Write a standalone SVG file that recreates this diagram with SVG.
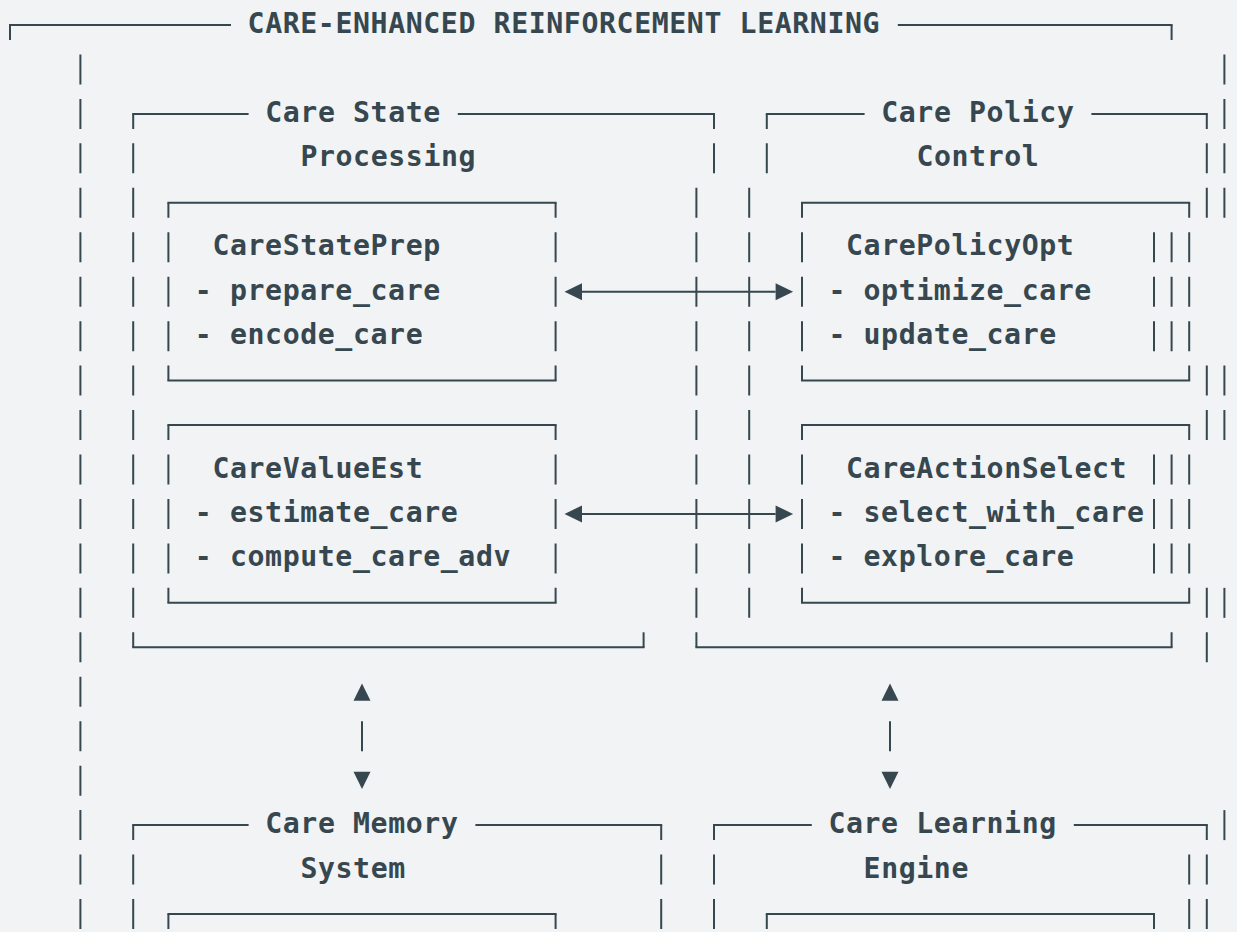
<svg xmlns="http://www.w3.org/2000/svg" width="1237" height="932" viewBox="0 0 1237 932">
<style>
.ln{fill:none;stroke:#37474f;stroke-width:2;stroke-linecap:square}
.vs{fill:none;stroke:#37474f;stroke-width:2;stroke-dasharray:30 14.45;stroke-dashoffset:15}
.vb{fill:none;stroke:#37474f;stroke-width:2;stroke-dasharray:30 14.45}
.tk{fill:none;stroke:#37474f;stroke-width:2}
.cn{fill:none;stroke:#37474f;stroke-width:2}
text{font-family:"DejaVu Sans Mono","Liberation Mono",monospace;font-weight:700;font-size:28.2px;letter-spacing:0.6px;fill:#37474f}
</style>
<defs>
<marker id="tri" markerUnits="userSpaceOnUse" markerWidth="18" markerHeight="18" refX="0" refY="8.5" orient="auto-start-reverse" overflow="visible"><path d="M0,0 L17.5,8.5 L0,17 z" fill="#37474f"/></marker>
<marker id="triGap" markerUnits="userSpaceOnUse" markerWidth="40" markerHeight="18" refX="0" refY="8.5" orient="auto-start-reverse" overflow="visible"><path d="M20.5,0 L37.8,8.5 L20.5,17 z" fill="#37474f"/></marker>
</defs>
<rect x="0" y="0" width="1237" height="932" fill="#f1f3f5"/>

<g id="frame-outer">
<path class="ln" d="M10,25 H230 M898.8,25 H1171.6"/>
<path class="tk" d="M10,25 V40 M1171.6,25 V40"/>
<path class="vb" d="M80.4,54.45 V929"/>
<path class="vb" d="M1224.4,54.45 V217.8"/>
<path class="vb" d="M1224.4,365.6 V440.05"/>
<path class="vb" d="M1224.4,587.85 V617.85"/>
<path class="vb" d="M1224.4,810.1 V840.1"/>
<path class="vb" d="M1189.2,854.55 V929"/>
<text x="247.6" y="33">CARE-ENHANCED REINFORCEMENT LEARNING</text>
</g>

<g id="group-care-state">
<path class="ln" d="M133.2,113.9 H247.6 M458.8,113.9 H714 M133.2,647.3 H643.6"/>
<path class="vs" d="M133.2,113.9 V647.3"/>
<path class="vs" d="M714,113.9 V173.35"/>
<path class="vb" d="M696.4,187.8 V617.85"/>
<path class="tk" d="M643.6,632.3 V647.3"/>
<text x="265.2" y="121.9">Care State</text>
<text x="300.4" y="166.35">Processing</text>
</g>

<g id="group-care-policy">
<path class="ln" d="M766.8,113.9 H863.6 M1092.4,113.9 H1206.8 M696.4,647.3 H1171.6"/>
<path class="vs" d="M766.8,113.9 V173.35"/>
<path class="vs" d="M1206.8,113.9 V217.8"/>
<path class="vb" d="M749.2,187.8 V617.85"/>
<path class="vb" d="M1206.8,365.6 V440.05"/>
<path class="vb" d="M1206.8,587.85 V662.3"/>
<path class="vb" d="M1171.6,232.25 V351.15"/>
<path class="vb" d="M1171.6,454.5 V573.4"/>
<path class="vb" d="M1154,232.25 V351.15"/>
<path class="vb" d="M1154,454.5 V573.4"/>
<path class="tk" d="M696.4,632.3 V647.3 M1171.6,632.3 V647.3"/>
<text x="881.2" y="121.9">Care Policy</text>
<text x="916.4" y="166.35">Control</text>
</g>

<g id="node-care-state-prep">
<path class="ln" d="M168.4,202.8 H555.6 M168.4,380.6 H555.6"/>
<path class="vs" d="M168.4,202.8 V380.6"/>
<path class="vs" d="M555.6,202.8 V380.6"/>
<text x="212.4" y="255.25">CareStatePrep</text>
<text x="194.8" y="299.7">- prepare_care</text>
<text x="194.8" y="344.15">- encode_care</text>
</g>

<g id="node-care-value-est">
<path class="ln" d="M168.4,425.05 H555.6 M168.4,602.85 H555.6"/>
<path class="vs" d="M168.4,425.05 V602.85"/>
<path class="vs" d="M555.6,425.05 V602.85"/>
<text x="212.4" y="477.5">CareValueEst</text>
<text x="194.8" y="521.95">- estimate_care</text>
<text x="194.8" y="566.4">- compute_care_adv</text>
</g>

<g id="node-care-policy-opt">
<path class="ln" d="M802,202.8 H1189.2 M802,380.6 H1189.2"/>
<path class="vs" d="M802,202.8 V380.6"/>
<path class="vs" d="M1189.2,202.8 V380.6"/>
<text x="846" y="255.25">CarePolicyOpt</text>
<text x="828.4" y="299.7">- optimize_care</text>
<text x="828.4" y="344.15">- update_care</text>
</g>

<g id="node-care-action-select">
<path class="ln" d="M802,425.05 H1189.2 M802,602.85 H1189.2"/>
<path class="vs" d="M802,425.05 V602.85"/>
<path class="vs" d="M1189.2,425.05 V602.85"/>
<text x="846" y="477.5">CareActionSelect</text>
<text x="828.4" y="521.95">- select_with_care</text>
<text x="828.4" y="566.4">- explore_care</text>
</g>

<g id="group-care-memory">
<path class="ln" d="M133.2,825.1 H247.6 M476.4,825.1 H661.2"/>
<path class="vs" d="M133.2,825.1 V929"/>
<path class="vs" d="M661.2,825.1 V929"/>
<text x="265.2" y="833.1">Care Memory</text>
<text x="300.4" y="877.55">System</text>
</g>

<g id="node-memory-inner">
<path class="ln" d="M168.4,914 H555.6"/>
<path class="tk" d="M168.4,914 V929 M555.6,914 V929"/>
</g>

<g id="group-care-learning">
<path class="ln" d="M714,825.1 H810.8 M1074.8,825.1 H1206.8"/>
<path class="vs" d="M714,825.1 V929"/>
<path class="vs" d="M1206.8,825.1 V929"/>
<text x="828.4" y="833.1">Care Learning</text>
<text x="863.6" y="877.55">Engine</text>
</g>

<g id="node-learning-inner">
<path class="ln" d="M766.8,914 H1154"/>
<path class="tk" d="M766.8,914 V929 M1154,914 V929"/>
</g>

<g id="connectors">
<path class="cn" d="M582,291.7 H775.6" marker-start="url(#tri)" marker-end="url(#tri)"/>
<path class="cn" d="M582,513.95 H775.6" marker-start="url(#tri)" marker-end="url(#tri)"/>
<path class="cn" d="M362,721.2 V751.2" marker-start="url(#triGap)" marker-end="url(#triGap)"/>
<path class="cn" d="M890,721.2 V751.2" marker-start="url(#triGap)" marker-end="url(#triGap)"/>
</g>
</svg>
